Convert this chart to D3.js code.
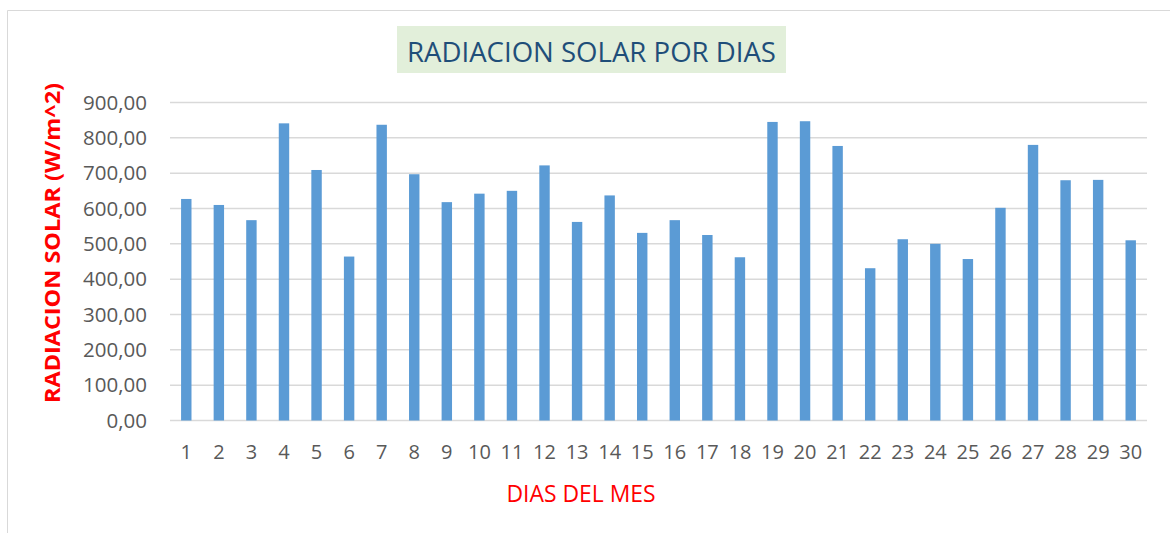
<!DOCTYPE html>
<html>
<head>
<meta charset="utf-8">
<script src="https://cdn.jsdelivr.net/npm/d3@7"></script>
<style>
  html, body { margin: 0; padding: 0; background: #fff; }
  svg { display: block; font-family: "Open Sans", sans-serif; }
</style>
</head>
<body>
<svg id="chart" width="1170" height="533"></svg>
<script>
const days = ["1","2","3","4","5","6","7","8","9","10","11","12","13","14","15","16","17","18","19","20","21","22","23","24","25","26","27","28","29","30"];
const radiation = [627, 610, 567, 841, 709, 464, 837, 697, 618, 642, 650, 722, 562, 637, 531, 567, 525, 462, 845, 847, 777, 431, 513, 500, 457, 602, 780, 680, 681, 510];
const yTicks = [0, 100, 200, 300, 400, 500, 600, 700, 800, 900];
const chartTitle = "RADIACION SOLAR POR DIAS";
const xTitle = "DIAS DEL MES";
const yTitle = "RADIACION SOLAR (W/m^2)";

const svg = d3.select("#chart");
const W = 1170, H = 533;
const plot = { left: 170, right: 1147, top: 102.5, bottom: 420.5 };

// chart frame (top & left edges visible)
svg.append("path")
  .attr("d", `M7.5,${H} V10.5 H${W}`)
  .attr("fill", "none").attr("stroke", "#d9d9d9").attr("stroke-width", 1);

const x = d3.scaleBand().domain(days).range([plot.left, plot.right])
  .paddingInner(0.68).paddingOuter(0.34);
const y = d3.scaleLinear().domain([0, 900]).range([plot.bottom, plot.top]);

const fmt = v => d3.format(".2f")(v).replace(".", ",");

// gridlines
svg.append("g")
  .selectAll("line").data(yTicks).join("line")
  .attr("x1", plot.left).attr("x2", plot.right)
  .attr("y1", d => y(d)).attr("y2", d => y(d))
  .attr("stroke", "#d9d9d9").attr("stroke-width", 1.5);

// y axis labels
const yAxis = d3.axisLeft(y).tickValues(yTicks).tickFormat(fmt).tickSize(0).tickPadding(0);
const gy = svg.append("g").attr("transform", `translate(147,0)`).call(yAxis);
gy.select(".domain").remove();
gy.selectAll("text").attr("fill", "#595959").style("font-size", "20.5px")
  .style("font-family", "'Open Sans', sans-serif");

// bars
svg.append("g").selectAll("rect").data(radiation).join("rect")
  .attr("x", (d, i) => x(days[i]))
  .attr("width", x.bandwidth())
  .attr("y", d => y(d))
  .attr("height", d => y(0) - y(d))
  .attr("fill", "#5b9bd5");

// x axis labels
const xAxis = d3.axisBottom(x).tickSize(0).tickPadding(0);
const gx = svg.append("g").attr("transform", `translate(0,${plot.bottom})`).call(xAxis);
gx.select(".domain").remove();
gx.selectAll("text").attr("fill", "#595959").style("font-size", "20px")
  .style("font-family", "'Open Sans', sans-serif")
  .attr("dy", null).attr("y", 38.5);

// title box
svg.append("rect").attr("x", 397).attr("y", 26).attr("width", 389).attr("height", 47)
  .attr("fill", "#e2efda");
svg.append("text").attr("x", 591.5).attr("y", 61.5).attr("text-anchor", "middle")
  .attr("fill", "#1f4e79").style("font-size", "28px")
  .attr("textLength", 369).attr("lengthAdjust", "spacingAndGlyphs")
  .text(chartTitle);

// x title
svg.append("text").attr("x", 581).attr("y", 502).attr("text-anchor", "middle")
  .attr("fill", "#ff0000").style("font-size", "23px")
  .attr("textLength", 149).attr("lengthAdjust", "spacingAndGlyphs")
  .text(xTitle);

// y title
svg.append("text").attr("transform", "translate(60,243) rotate(-90)")
  .attr("text-anchor", "middle")
  .attr("fill", "#ff0000").style("font-size", "22px").style("font-weight", "bold")
  .attr("textLength", 320).attr("lengthAdjust", "spacingAndGlyphs")
  .text(yTitle);
</script>
</body>
</html>
